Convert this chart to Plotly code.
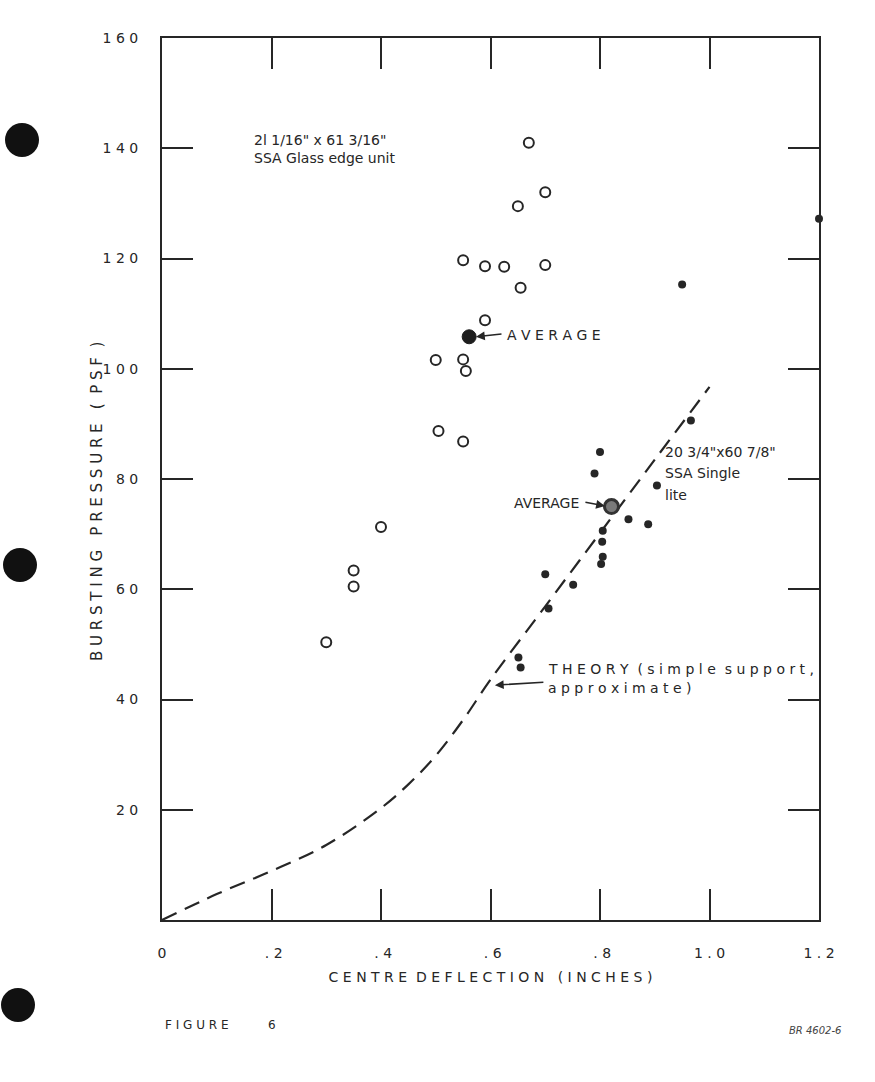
import plotly.graph_objects as go

# ---------------- data ----------------
# 21 1/16" x 61 3/16" SSA Glass edge unit (open circles)
glass_x = [0.67, 0.65, 0.70, 0.55, 0.59, 0.625, 0.70, 0.655, 0.59, 0.50, 0.55, 0.555, 0.505, 0.55, 0.40, 0.35, 0.35, 0.30]
glass_y = [141.0, 129.5, 132.0, 119.7, 118.6, 118.5, 118.8, 114.7, 108.8, 101.6, 101.7, 99.6, 88.7, 86.8, 71.3, 63.4, 60.5, 50.4]
glass_avg_x = [0.561]
glass_avg_y = [105.8]

# 20 3/4" x 60 7/8" SSA Single lite (filled dots)
single_x = [1.20, 0.95, 0.966, 0.80, 0.79, 0.904, 0.852, 0.888, 0.805, 0.804, 0.805, 0.802, 0.70, 0.751, 0.706, 0.651, 0.655]
single_y = [127.2, 115.3, 90.6, 84.9, 81.0, 78.8, 72.7, 71.8, 70.6, 68.6, 65.9, 64.6, 62.7, 60.8, 56.5, 47.6, 45.8]
single_avg_x = [0.821]
single_avg_y = [75.0]

# Theory (simple support, approximate)
theory_x = [0.0, 0.1, 0.2, 0.3, 0.4, 0.45, 0.5, 0.55, 0.6, 0.7, 0.8, 0.9, 1.0]
theory_y = [0.0, 4.7, 8.9, 13.6, 20.3, 24.6, 29.8, 36.3, 43.6, 56.9, 70.2, 83.5, 96.7]

# ticks
x_tick_vals = [0, 0.2, 0.4, 0.6, 0.8, 1.0, 1.2]
x_tick_text = ["0", " . 2", " . 4", " . 6", " . 8", "1 . 0", "1 . 2"]
y_tick_vals = [20, 40, 60, 80, 100, 120, 140, 160]
y_tick_text = ["2 0", "4 0", "6 0", "8 0", "1 0 0", "1 2 0", "1 4 0", "1 6 0"]

INK = "#262626"
FONT = "DejaVu Sans"

fig = go.Figure()

fig.add_trace(go.Scatter(
    x=theory_x, y=theory_y, mode="lines",
    line=dict(color=INK, width=2.2, dash="16px,9px", shape="spline", smoothing=1.0),
    hoverinfo="skip", showlegend=False))

fig.add_trace(go.Scatter(
    x=glass_x, y=glass_y, mode="markers",
    marker=dict(symbol="circle-open", size=10, color=INK, line=dict(width=2, color=INK)),
    showlegend=False))

fig.add_trace(go.Scatter(
    x=glass_avg_x, y=glass_avg_y, mode="markers",
    marker=dict(symbol="circle", size=14, color="#1e1e1e", line=dict(width=1, color="#1e1e1e")),
    showlegend=False))

fig.add_trace(go.Scatter(
    x=single_x, y=single_y, mode="markers", cliponaxis=False,
    marker=dict(symbol="circle", size=8, color=INK, line=dict(width=0)),
    showlegend=False))

fig.add_trace(go.Scatter(
    x=single_avg_x, y=single_avg_y, mode="markers",
    marker=dict(symbol="circle", size=14, color="#7a7a7a", line=dict(width=3, color="#333333")),
    showlegend=False))

axis_common = dict(
    showline=True, linewidth=2, linecolor=INK, mirror="ticks",
    ticks="inside", ticklen=31, tickwidth=2, tickcolor=INK,
    showgrid=False, zeroline=False,
    tickfont=dict(family=FONT, size=14, color=INK),
    ticklabelstandoff=19,
)

fig.update_xaxes(range=[0, 1.2], tickvals=x_tick_vals, ticktext=x_tick_text,
                 title=dict(text="C E N T R E  D E F L E C T I O N   ( I N C H E S )",
                            font=dict(family=FONT, size=14, color=INK), standoff=12),
                 **axis_common)
fig.update_yaxes(range=[0, 160], tickvals=y_tick_vals, ticktext=y_tick_text,
                 **axis_common)

L, R, T, B = 162, 819, 38, 920
def px(xp): return (xp - L) / (R - L)
def py(yp): return (B - yp) / (B - T)

ann = []
# y-axis title (positioned as in the original, slightly below centre)
ann.append(dict(x=px(97), y=py(502), xref="paper", yref="paper",
                text="B U R S T I N G   P R E S S U R E   (  P S F  )",
                textangle=-90, showarrow=False, xanchor="center", yanchor="middle",
                font=dict(family=FONT, size=15, color=INK)))

def txt(x, y, text, xanchor="left", size=14):
    ann.append(dict(x=x, y=y, xref="x", yref="y", text=text, showarrow=False,
                    xanchor=xanchor, yanchor="middle",
                    font=dict(family=FONT, size=size, color=INK)))

txt(0.164, 141.5, "2l 1/16\" x 61 3/16\"", size=14)
txt(0.164, 138.2, "SSA Glass edge unit", size=14)
txt(0.6265, 106.1, "A V E R A G E")
txt(0.915, 84.9, "20 3/4\"x60 7/8\"", size=14)
txt(0.915, 81.1, "SSA Single", size=14)
txt(0.915, 77.1, "lite", size=14)
txt(0.765, 75.6, "AVERAGE", xanchor="right")
txt(0.701, 45.5, "T H E O R Y  ( s i m p l e  s u p p o r t ,")
txt(0.701, 42.1, "a p p r o x i m a t e )")

def arrow(x, y, ax, ay):
    ann.append(dict(x=x, y=y, xref="x", yref="y", text="", showarrow=True,
                    ax=ax, ay=ay, arrowhead=2, arrowsize=1.1, arrowwidth=1.6,
                    arrowcolor=INK))
arrow(0.5735, 105.8, 27, -3)
arrow(0.809, 75.1, -21, -4)
arrow(0.608, 42.6, 50, -3)

ann.append(dict(x=px(163), y=py(1025), xref="paper", yref="paper", text="F I G U R E",
                showarrow=False, xanchor="left", yanchor="middle",
                font=dict(family=FONT, size=12, color=INK)))
ann.append(dict(x=px(272), y=py(1025), xref="paper", yref="paper", text="6",
                showarrow=False, xanchor="center", yanchor="middle",
                font=dict(family=FONT, size=12, color=INK)))
ann.append(dict(x=px(843), y=py(1030), xref="paper", yref="paper", text="BR 4602-6",
                showarrow=False, xanchor="right", yanchor="middle",
                font=dict(family=FONT, size=10, color="#444", style="italic")))

shapes = []
for cx, cy in [(22, 140), (20, 565), (18, 1005)]:
    r = 17
    shapes.append(dict(type="circle", xref="paper", yref="paper",
                       x0=px(cx - r), x1=px(cx + r), y0=py(cy + r), y1=py(cy - r),
                       fillcolor="#111", line=dict(width=0)))

fig.update_layout(
    width=875, height=1082,
    margin=dict(l=L, r=875 - R, t=T, b=1082 - B),
    paper_bgcolor="white", plot_bgcolor="white",
    annotations=ann, shapes=shapes,
    font=dict(family=FONT, color=INK),
)

fig.write_html("out.html")
